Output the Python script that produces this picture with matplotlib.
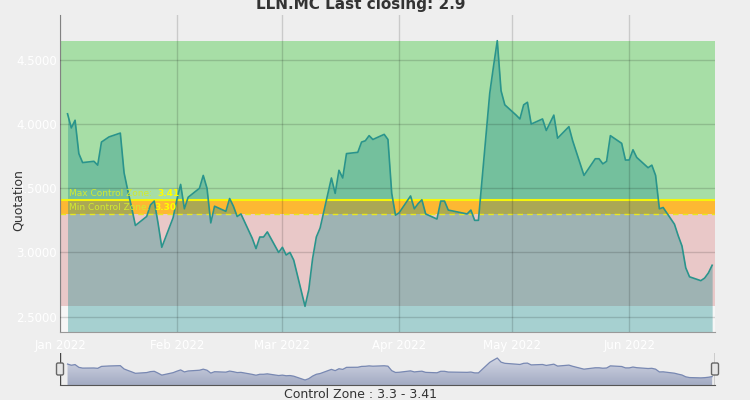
import numpy as np
import pandas as pd
import matplotlib
matplotlib.use('Agg')
import matplotlib.pyplot as plt
from matplotlib.colors import LinearSegmentedColormap
from matplotlib.patches import FancyBboxPatch
import matplotlib.dates as mdates

ticker = 'LLN.MC'
last_close = 2.9
max_zone = 3.41
min_zone = 3.30

# BME trading days, Jan 3 -> Jun 23 2022 (Good Friday / Easter Monday closed)
holidays = ['2022-04-15', '2022-04-18']
closes = [
    4.08, 3.97, 4.03, 3.77, 3.70, 3.71, 3.68, 3.86, 3.88, 3.90, 3.93, 3.62, 3.48, 3.35, 3.21, 3.28, 3.37, 3.40, 3.23, 3.04, 3.27,
    3.41, 3.53, 3.34, 3.43, 3.50, 3.60, 3.50, 3.23, 3.36, 3.32, 3.42, 3.36, 3.28, 3.30, 3.11, 3.03, 3.12, 3.12, 3.16, 3.00,
    3.04, 2.98, 3.00, 2.94, 2.58, 2.71, 2.95, 3.12, 3.19, 3.58, 3.46, 3.64, 3.58, 3.77, 3.78, 3.86, 3.87, 3.91, 3.88, 3.92, 3.88, 3.46, 3.29,
    3.31, 3.44, 3.34, 3.38, 3.41, 3.30, 3.26, 3.40, 3.40, 3.33, 3.30, 3.33, 3.25, 3.25, 4.24, 4.45, 4.65, 4.26, 4.15,
    4.07, 4.04, 4.15, 4.17, 4.00, 4.04, 3.95, 4.01, 4.07, 3.89, 3.98, 3.87, 3.78, 3.69, 3.60, 3.73, 3.73, 3.69, 3.71, 3.91, 3.85, 3.72,
    3.72, 3.80, 3.74, 3.66, 3.68, 3.60, 3.34, 3.35, 3.22, 3.13, 3.05, 2.88, 2.81, 2.78, 2.80, 2.84, 2.90,
]
month_ticks = ['2022-01-01', '2022-02-01', '2022-03-01', '2022-04-01', '2022-05-01', '2022-06-01']
month_labels = ['Jan 2022', 'Feb 2022', 'Mar 2022', 'Apr 2022', 'May 2022', 'Jun 2022']
y_ticks = [2.5, 3.0, 3.5, 4.0, 4.5]

dates = pd.bdate_range('2022-01-03', '2022-06-23')
dates = dates[~dates.isin(pd.to_datetime(holidays))]
y = np.array(closes)
top, low = y.max(), y.min()

bg = '#eeeeee'
x0, x1 = pd.Timestamp('2022-01-01'), pd.Timestamp('2022-06-23 18:00')
y0, y1 = 2.38, 4.85

fig = plt.figure(figsize=(7.5, 4), dpi=100, facecolor=bg)
ax = fig.add_axes([0.08, 0.17, 0.8733, 0.7925], facecolor=bg)

# control zones
ax.axhspan(max_zone, top, color='#a7dea6', lw=0, zorder=0)
ax.axhspan(min_zone, max_zone, color='#fdb833', lw=0, zorder=0)
ax.axhspan(low, min_zone, color='#e9c8c8', lw=0, zorder=0)
ax.axhspan(y0, low, color='#f6f6f6', lw=0, zorder=0)

ax.fill_between(dates, y, y0, color='#1f8f8f', alpha=0.37, lw=0, zorder=1)
ax.plot(dates, y, color='#2a948c', lw=1.2, zorder=3)
ax.axhline(max_zone, color='#f5f50a', lw=1.5, zorder=2)
ax.axhline(min_zone, color='#e8e820', lw=1, ls=(0, (4, 3)), zorder=2)

lbl_tr = ax.get_yaxis_transform()
for txt, val, ypos in [('Max Control Zone:  ', max_zone, 3.46), ('Min Control Zone:  ', min_zone, 3.348)]:
    t = ax.text(0.013, ypos, txt, transform=lbl_tr, color='#d2ea30', fontsize=6.5, va='center', zorder=4)
    ax.annotate('%.2f' % val, xy=(1, 0.5), xycoords=t, va='center', color='#ffff00',
                fontsize=6.5, weight='bold', zorder=4)

ax.set_xlim(x0, x1)
ax.set_ylim(y0, y1)
ax.set_xticks(pd.to_datetime(month_ticks))
ax.set_xticklabels(month_labels)
ax.set_yticks(y_ticks)
ax.set_yticklabels(['%.4f' % v for v in y_ticks])
ax.tick_params(axis='both', length=0, colors='white', labelsize=8.5)
ax.tick_params(axis='x', pad=5)
ax.tick_params(axis='y', pad=2)
ax.set_axisbelow(False)
ax.grid(True, color='black', alpha=0.15, lw=1)
for s in ['top', 'right']:
    ax.spines[s].set_visible(False)
for s in ['left', 'bottom']:
    ax.spines[s].set_color('#999999')

fig.text(361 / 750, 1 - 4 / 400, '%s Last closing: %s' % (ticker, last_close),
         ha='center', va='center', fontsize=11, weight='bold', color='#333333')
fig.text(18 / 750, 0.5, 'Quotation', rotation=90, ha='center', va='center', fontsize=9, color='#333333')
fig.text(360 / 750, 1 - 395 / 400, 'Control Zone : %s - %s' % (min_zone, max_zone),
         ha='center', va='center', fontsize=9, color='#333333')

# navigator
nav = fig.add_axes([0.08, 15 / 400, 0.8733, 32 / 400], facecolor=bg)
ny0, ny1 = 2.11, 5.12
cmap = LinearSegmentedColormap.from_list('nav', ['#a3abc3', '#dadde9'])
grad = np.linspace(0, 1, 100).reshape(-1, 1)
im = nav.imshow(grad, extent=[mdates.date2num(x0), mdates.date2num(x1), ny0, ny1],
                origin='lower', aspect='auto', cmap=cmap, zorder=1)
poly = nav.fill_between(dates, y, ny0, color='none', lw=0)
im.set_clip_path(poly.get_paths()[0], transform=nav.transData)
nav.plot(dates, y, color='#7888b2', lw=0.9, zorder=2)
nav.set_xlim(x0, x1)
nav.set_ylim(ny0, ny1)
nav.set_xticks([])
nav.set_yticks([])
for s in ['top', 'right', 'left']:
    nav.spines[s].set_visible(False)
nav.spines['bottom'].set_color('#555555')
nav.axvline(x0, color='#444444', lw=1)
nav.axvline(x1, color='#444444', lw=1)
for px in [60, 715]:
    handle = FancyBboxPatch(((px - 3.5) / 100, (400 - 375) / 100), 0.07, 0.12,
                            boxstyle='round,pad=0,rounding_size=0.015',
                            fc='#e6e6e6', ec='#666666', lw=1, transform=fig.dpi_scale_trans)
    fig.add_artist(handle)

fig.savefig('out.png', dpi=100, facecolor=bg)
